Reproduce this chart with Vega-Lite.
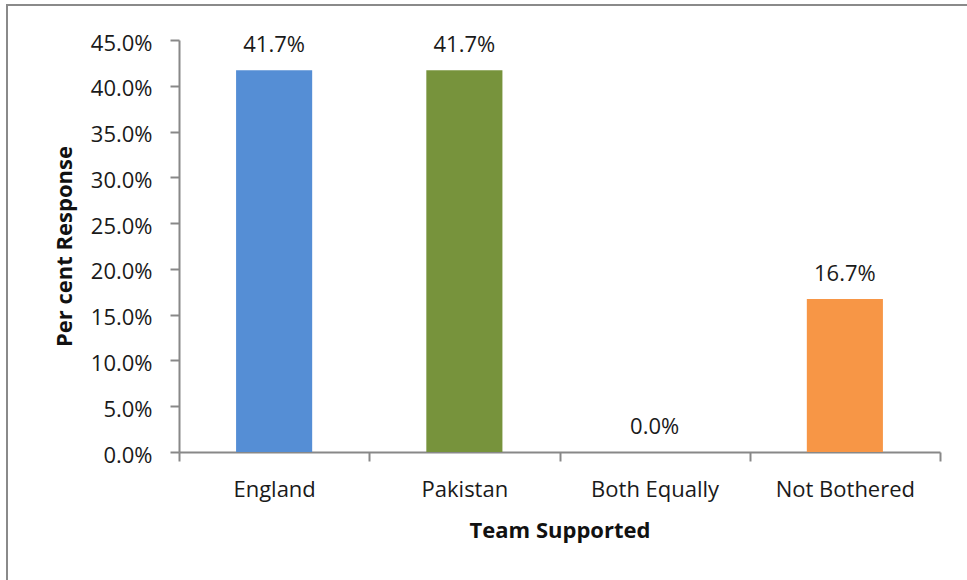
{
  "$schema": "https://vega.github.io/schema/vega-lite/v6.json",
  "width": 970,
  "height": 585,
  "autosize": {"type": "none"},
  "padding": {"left": 7, "top": 5, "right": -10, "bottom": -10},
  "background": "white",
  "config": {
    "view": {"stroke": "#8a8a8a", "strokeWidth": 2},
    "font": "Open Sans"
  },
  "data": {
    "values": [
      {"team": "England", "pct": 0.417},
      {"team": "Pakistan", "pct": 0.417},
      {"team": "Both Equally", "pct": 0.0},
      {"team": "Not Bothered", "pct": 0.167}
    ]
  },
  "encoding": {
    "x": {
      "field": "team",
      "type": "nominal",
      "sort": null,
      "scale": {"range": [172, 933], "paddingInner": 0, "paddingOuter": 0},
      "axis": {
        "title": "Team Supported",
        "titleFont": "Open Sans",
        "titleFontSize": 22,
        "titleFontWeight": "bold",
        "titleColor": "#111",
        "titlePadding": 20,
        "labelAngle": 0,
        "labelFontSize": 22,
        "labelColor": "#1a1a1a",
        "labelPadding": 18,
        "tickBand": "extent",
        "tickSize": 9,
        "tickWidth": 2,
        "tickColor": "#888888",
        "domainColor": "#888888",
        "domainWidth": 2,
        "grid": false,
        "offset": -138
      }
    },
    "y": {
      "field": "pct",
      "type": "quantitative",
      "scale": {"domain": [0, 0.45], "range": [447, 35], "nice": false, "zero": true},
      "axis": {
        "title": "Per cent Response",
        "titleFont": "Open Sans",
        "titleFontSize": 22,
        "titleFontWeight": "bold",
        "titleColor": "#111",
        "titlePadding": 14,
        "values": [0, 0.05, 0.1, 0.15, 0.2, 0.25, 0.3, 0.35, 0.4, 0.45],
        "format": ".1%",
        "labelFontSize": 22,
        "labelColor": "#1a1a1a",
        "labelPadding": 18,
        "labelOffset": 3,
        "tickSize": 9,
        "tickWidth": 2,
        "tickColor": "#888888",
        "domainColor": "#888888",
        "domainWidth": 2,
        "grid": false,
        "offset": -172
      }
    }
  },
  "layer": [
    {
      "mark": {"type": "bar", "width": {"band": 0.4}},
      "encoding": {
        "color": {
          "field": "team",
          "type": "nominal",
          "scale": {
            "domain": ["England", "Pakistan", "Both Equally", "Not Bothered"],
            "range": ["#558ed5", "#77933c", "#ffffff", "#f79646"]
          },
          "legend": null
        }
      }
    },
    {
      "mark": {"type": "text", "baseline": "alphabetic", "dy": -18, "fontSize": 22, "color": "#1a1a1a", "font": "Open Sans"},
      "encoding": {
        "text": {"field": "pct", "type": "quantitative", "format": ".1%"}
      }
    }
  ]
}
